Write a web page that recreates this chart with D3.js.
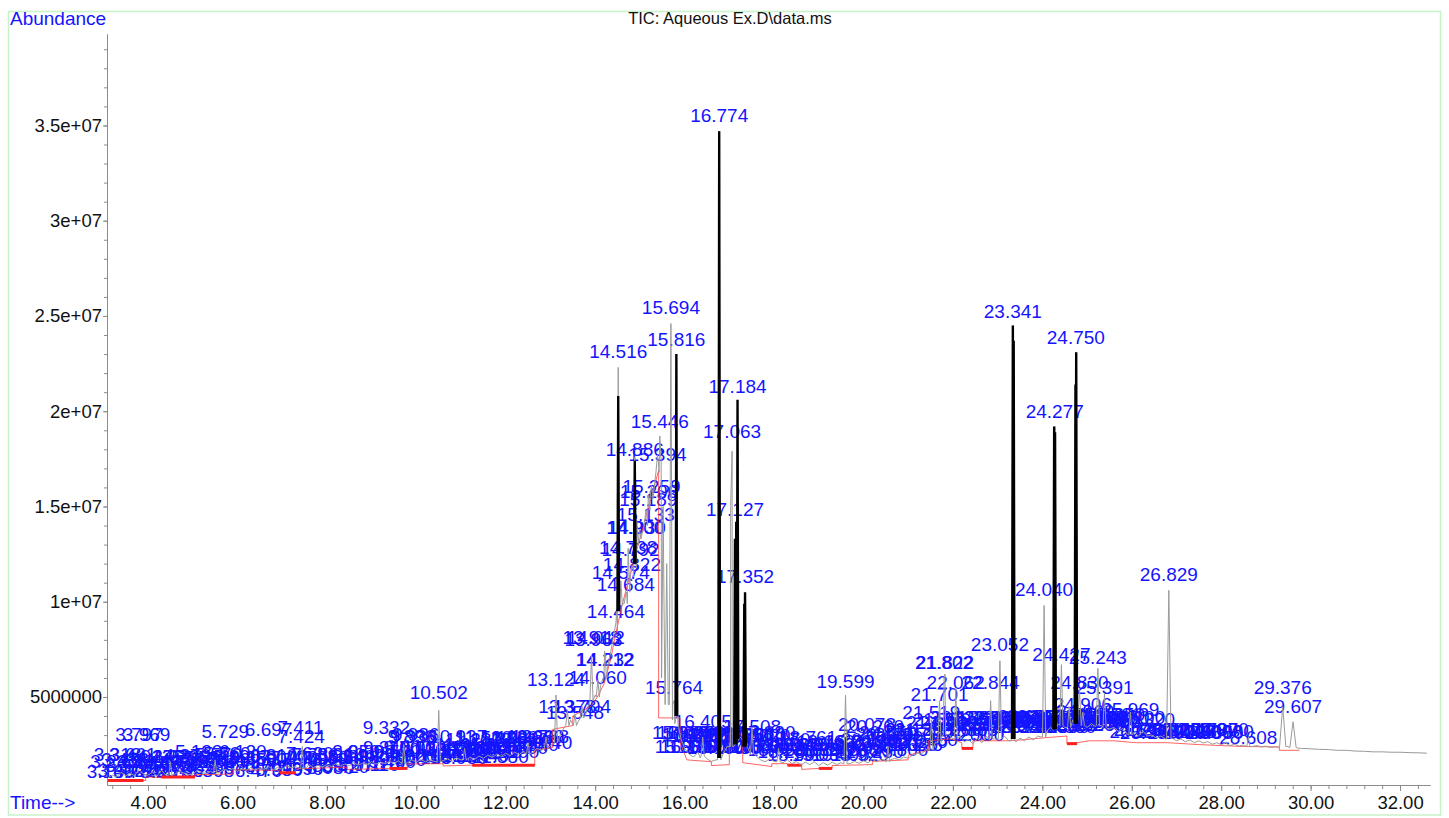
<!DOCTYPE html>
<html>
<head>
<meta charset="utf-8">
<script src="https://cdn.jsdelivr.net/npm/d3@7"></script>
<style>
  body { margin: 0; background: #fff; }
  text { font-family: "Liberation Sans", Arial, sans-serif; }
</style>
</head>
<body>
<div id="chart"></div>
<script>
// abundances are in millions, times in minutes

// TIC trace between the peaks [time, abundance]
const traceBase = [
  [3.10,0.75],[3.20,0.90],[3.30,0.80],[3.40,1.05],[3.50,0.85],[3.60,1.00],[3.70,0.88],[3.80,1.20],[3.90,0.95],[4.00,0.90],
  [4.10,1.05],[4.20,0.85],[4.30,1.15],[4.40,0.90],[4.60,0.95],[4.70,1.10],[4.80,1.00],[4.90,0.92],[5.00,0.95],[5.10,1.15],
  [5.20,1.05],[5.30,0.98],[5.40,1.10],[5.60,1.05],[5.70,1.20],[5.80,1.12],[5.90,1.25],[6.00,1.10],[6.10,1.22],[6.20,1.15],
  [6.30,1.30],[6.40,1.15],[6.50,1.28],[6.60,1.20],[6.70,1.35],[6.80,1.18],[6.90,1.30],[7.00,1.20],[7.10,1.40],[7.20,1.28],
  [7.30,1.35],[7.38,1.25],[7.55,1.30],[7.60,1.45],[7.70,1.30],[7.80,1.42],[7.90,1.32],[8.00,1.45],[8.10,1.35],[8.20,1.50],
  [8.30,1.38],[8.40,1.48],[8.50,1.40],[8.60,1.55],[8.70,1.42],[8.80,1.52],[8.90,1.45],[9.00,1.60],[9.10,1.48],[9.20,1.58],
  [9.30,1.50],[9.40,1.62],[9.50,1.52],[9.60,1.65],[9.80,1.55],[9.90,1.70],[10.00,1.58],[10.10,1.72],[10.20,1.60],[10.30,1.70],
  [10.40,1.62],[10.60,1.66],[10.70,1.75],[10.80,1.62],[10.90,1.80],[11.00,1.70],[11.15,1.75],[11.20,1.85],[11.30,1.72],[11.40,1.90],
  [11.50,1.78],[11.60,1.95],[11.70,1.82],[11.80,2.00],[11.90,1.88],[12.00,2.05],[12.10,1.92],[12.20,2.10],[12.30,1.98],[12.40,2.15],
  [12.60,2.10],[12.70,2.30],[12.80,2.20],[13.00,2.45],[13.20,2.90],[13.28,3.30],[13.45,3.80],[13.50,3.55],[13.62,3.70],[13.76,3.95],
  [13.85,4.50],[14.00,5.10],[14.12,5.60],[14.28,6.60],[14.35,7.40],[14.42,8.30],[14.62,9.90],[14.78,11.0],[14.95,13.2],[15.05,13.6],
  [15.10,14.2],[15.22,15.0],[15.33,16.2],[15.50,10.0],[15.55,6.0],[15.65,4.6],[15.72,4.4],[15.87,3.4],[15.92,2.8],[16.00,2.3],
  [16.10,2.00],[16.20,1.85],[16.30,2.10],[16.35,1.80],[16.50,1.75],[16.60,1.62],[16.70,1.70],[16.85,1.95],[16.95,2.40],[17.25,2.90],
  [17.42,2.30],[17.58,1.95],[17.70,1.70],[17.80,1.60],[17.90,1.75],[18.00,1.62],[18.20,1.55],[18.30,1.70],[18.40,1.50],[18.50,1.62],
  [18.60,1.42],[18.70,1.58],[18.80,1.45],[18.90,1.60],[19.00,1.40],[19.10,1.55],[19.20,1.42],[19.30,1.58],[19.40,1.45],[19.50,1.55],
  [19.70,1.50],[19.80,1.62],[19.90,1.52],[20.00,1.65],[20.10,1.55],[20.20,1.72],[20.30,1.60],[20.40,1.75],[20.50,1.62],[20.60,1.70],
  [20.70,1.78],[20.80,1.70],[20.90,1.85],[21.00,1.78],[21.10,1.95],[21.20,2.05],[21.30,2.00],[21.40,2.25],[21.46,2.20],[21.60,2.60],
  [21.75,2.90],[21.90,3.05],[22.00,2.80],[22.15,2.95],[22.25,2.65],[22.35,2.75],[22.45,2.55],[22.55,2.85],[22.65,2.60],[22.75,2.95],
  [22.95,2.80],[23.15,2.95],[23.25,2.70],[23.42,2.65],[23.50,2.85],[23.60,2.70],[23.70,2.90],[23.80,2.75],[23.90,2.95],[23.98,2.90],
  [24.10,3.20],[24.18,3.40],[24.35,3.60],[24.50,3.40],[24.68,3.80],[25.00,3.40],[25.10,3.60],[25.18,3.45],[25.32,3.50],[25.48,3.30],
  [25.60,3.40],[25.70,3.20],[25.80,3.35],[25.90,3.05],[26.05,3.15],[26.15,2.95],[26.25,3.20],[26.35,2.95],[26.45,3.00],[26.55,2.85],
  [26.65,2.95],[26.75,2.80],[26.90,2.85],[27.00,2.70],[27.10,2.80],[27.20,2.65],[27.30,2.75],[27.40,2.60],[27.50,2.70],[27.60,2.58],
  [27.70,2.66],[27.80,2.52],[27.90,2.60],[28.00,2.50],[28.10,2.58],[28.20,2.45],[28.30,2.52],[28.40,2.42],[28.50,2.48],[28.70,2.40],
  [28.80,2.45],[28.90,2.38],[29.00,2.42],[29.10,2.35],[29.20,2.38],[29.28,2.36],[29.49,2.40],[29.70,2.32],[29.80,2.30],[30.00,2.28],
  [30.20,2.25],[30.40,2.24],[30.60,2.20],[30.80,2.20],[31.00,2.16],[31.20,2.15],[31.40,2.12],[31.60,2.12],[31.80,2.10],[32.00,2.10],
  [32.20,2.08],[32.40,2.07],[32.60,2.05]
];

// grey peaks [rt, apex, foot, half width]
const greyPeaks = [
  [4.50,1.6,0.9],[5.50,1.7,1.0],[7.45,2.4,1.25],[9.72,2.5,1.5],[10.502,4.3,1.6],[11.08,2.3,1.7],[12.50,2.6,2.0],
  [12.90,2.9,2.3],[13.124,5.1,2.6],[13.378,4.3,3.5],[13.548,4.1,3.5],[13.704,4.5,3.9],[13.918,7.2,4.8],[14.060,5.9,5.0],
  [14.212,7.4,6.0],[14.232,7.2,6.0],[14.464,8.9,8.4],[14.516,22.3,9.5],[14.574,11.1,9.8],[14.684,10.4,9.9],[14.738,12.8,10.5],
  [14.822,11.9,11.3],[14.886,17.6,11.8],[14.930,14.3,13.0],[14.990,13.8,13.3],[15.133,14.8,14.0],[15.189,15.6,14.8],
  [15.259,16.1,15.4],[15.394,17.7,16.8],[15.446,18.7,17.3,0.03],[15.52,15.0,6.0],[15.60,12.0,4.6],[15.694,24.6,4.6],
  [15.764,4.8,3.8],[15.816,23.0,3.6],[16.405,2.9,1.9],[16.774,34.7,1.7],[17.030,15.0,2.4],[17.063,17.9,2.4],[17.508,3.4,2.0],
  [18.10,2.3,1.6],[19.599,5.1,1.5],[20.55,2.4,1.6],[21.519,3.8,2.2],[21.701,4.8,2.6],[21.802,6.0,3.0],[21.822,6.2,3.0],
  [22.065,5.4,2.8],[22.844,4.8,2.8],[23.052,6.9,2.8],[23.341,24.5,2.7],[24.040,9.8,2.9],[24.277,19.2,3.3],[24.427,6.7,3.5],
  [24.60,4.5,3.4],[24.750,23.1,3.6],[24.830,5.4,3.8],[24.906,4.2,3.5],[25.243,6.5,3.5],[25.391,5.2,3.4],[25.969,4.2,3.0],
  [26.829,10.6,2.8,0.05],[28.608,2.9,2.4],[29.376,4.5,2.4,0.07],[29.607,3.7,2.35,0.07]
];

// heavy black peaks [rt, apex, foot]
const blackPeaks = [
  [14.516,20.8,9.5],[14.886,17.4,12.0],[15.816,23.0,4.0],[16.774,34.7,1.8],[17.127,13.3,2.5],[17.155,14.2,2.6],
  [17.184,20.6,2.8],[17.335,9.9,2.4],[17.352,10.5,2.4],[23.341,24.5,2.8],[23.360,23.7,2.8],[24.265,19.2,3.3],
  [24.285,18.9,3.3],[24.742,21.4,3.6],[24.758,23.1,3.6]
];

// integration baseline [time, abundance]
const intLine = [
  [3.10,0.62],[3.95,0.62],[3.95,0.80],[4.30,0.78],[5.05,0.80],[5.05,0.92],[5.90,0.95],[5.90,1.18],[6.95,1.15],[6.95,1.02],
  [7.30,1.02],[7.30,1.22],[8.45,1.32],[8.45,1.20],[9.40,1.25],[9.80,1.25],[9.80,1.48],[10.60,1.50],[10.60,1.38],[11.25,1.42],
  [12.65,1.42],[12.65,2.20],[13.05,2.35],[13.05,3.30],[13.50,3.50],[13.50,4.00],[13.90,4.50],[14.05,5.00],[14.20,5.70],
  [14.35,7.00],[14.45,8.20],[14.60,9.80],[14.80,11.6],[15.00,13.3],[15.20,15.0],[15.42,16.9],[15.42,3.90],[15.90,3.90],
  [15.90,2.60],[16.05,1.70],[16.60,1.60],[16.60,1.40],[17.00,1.45],[17.00,3.10],[17.30,3.00],[17.30,1.55],[17.95,1.35],
  [17.95,1.50],[18.30,1.50],[18.30,1.42],[18.62,1.42],[18.62,1.20],[19.00,1.25],[19.30,1.25],[19.30,1.40],[20.20,1.45],
  [20.20,1.62],[21.00,1.70],[21.00,1.95],[21.45,2.20],[21.45,2.70],[21.95,2.80],[22.20,2.60],[22.20,2.30],[22.45,2.35],
  [22.45,2.70],[23.20,2.70],[23.55,2.75],[24.00,2.85],[24.55,2.95],[24.55,2.55],[24.78,2.60],[25.05,2.70],[25.60,2.70],
  [26.10,2.60],[26.80,2.60],[27.50,2.50],[28.50,2.40],[29.30,2.38],[29.30,2.20],[29.75,2.20]
];

// heavy integration marks [start, end, abundance]
const intMarks = [
  [3.10,3.90,0.62],[4.30,5.05,0.80],[6.95,7.30,1.02],[9.40,9.80,1.25],[11.25,12.65,1.42],
  [18.30,18.62,1.42],[19.00,19.30,1.25],[22.20,22.45,2.30],[24.55,24.78,2.55]
];

// peak labels [rt, abundance at label]
const peakLabels = [
  [3.160,0.45],[3.241,0.96],[3.318,1.33],[3.402,0.50],[3.488,1.07],[3.575,0.75],[3.661,1.33],[3.754,0.45],[3.839,0.96],
  [3.926,0.65],[4.012,1.22],[4.105,0.50],[4.188,0.91],[4.275,1.22],[4.361,0.45],[4.447,1.07],[4.533,0.75],[4.620,1.22],
  [4.706,0.50],[4.792,0.96],[4.879,1.27],[4.965,0.65],[5.052,1.17],[5.133,1.48],[5.225,0.80],[5.311,1.17],[5.398,0.50],
  [5.484,1.07],[5.570,1.33],[3.797,2.38],[3.969,2.38],
  [5.729,2.53],[6.697,2.64],[7.411,2.74],[7.424,2.27],[9.332,2.74],[9.896,2.27],[9.936,2.27],[9.986,2.38],[10.502,4.58],
  [10.937,2.27],[5.66,0.96],[5.76,1.38],[5.87,0.65],[5.99,1.22],[6.12,1.48],[6.24,0.80],[6.35,1.17],[6.47,0.50],[6.58,1.07],
  [6.70,0.75],[6.81,1.27],[6.93,0.55],[7.04,1.22],[7.16,0.80],[7.27,1.17],[7.39,0.60],[7.50,1.07],[7.62,1.38],[7.736,1.33],
  [7.85,0.75],[7.96,1.17],[8.08,0.65],[8.19,1.07],[8.31,1.33],[8.42,0.70],[8.54,1.22],[8.65,1.48],[8.77,0.80],[8.88,1.17],
  [9.00,1.48],[9.11,0.80],[9.23,1.27],[9.34,1.69],[9.46,0.96],[9.57,1.48],[9.69,1.07],[9.80,1.69],[9.92,1.27],[10.03,1.69],
  [10.15,1.17],[10.26,1.59],[10.38,1.27],[10.61,1.69],[10.72,1.27],[10.84,1.59],[10.95,1.17],
  [11.05,1.85],[11.16,1.48],[11.28,2.11],[11.39,1.69],[11.51,2.22],[11.62,1.85],[11.74,1.48],[11.85,2.11],[11.97,1.69],
  [12.08,2.22],[12.20,1.85],[12.31,2.11],[12.43,2.22],[12.54,1.85],[12.66,2.27],[12.768,2.27],[12.84,1.96],
  [11.00,1.33],[11.22,1.59],[11.44,1.27],[11.66,1.48],[11.88,1.22],[12.10,1.48],[12.30,1.69],
  [13.124,5.26],[13.378,3.85],[13.548,3.53],[13.704,3.85],[13.918,7.47],[13.963,7.36],[14.012,7.47],[14.212,6.31],
  [14.232,6.31],[14.060,5.37],[14.464,8.83],
  [14.516,22.47],[14.574,10.88],[14.684,10.25],[14.738,12.2],[14.792,12.09],[14.822,11.30],[14.886,17.33],[14.900,13.23],
  [14.930,13.23],[15.133,13.92],[15.189,14.70],[15.206,15.12],[15.259,15.39],[15.394,17.07],[15.446,18.80],
  [15.694,24.78],[15.816,23.10],[15.764,4.84],[16.405,3.06],[16.774,34.85],[17.063,18.27],[17.184,20.63],[17.127,14.18],
  [17.352,10.67],[17.508,2.80],
  [15.92,2.48],[16.03,2.48],[16.14,2.38],[16.25,2.48],[16.36,2.30],[16.47,2.38],[16.58,2.30],[16.69,2.48],[16.80,2.30],
  [16.91,2.38],[17.02,2.30],[17.13,2.38],[17.24,2.30],[17.35,2.38],[17.61,2.38],[17.72,2.30],[17.83,2.48],
  [15.98,1.75],[16.10,1.75],[16.30,1.75],[16.50,1.75],[16.70,1.70],[16.90,1.75],[17.10,1.75],[17.30,1.70],[17.50,1.75],[17.70,1.75],
  [17.95,1.85],[18.06,1.59],[18.17,2.11],[18.28,1.48],[18.39,1.85],[18.50,1.33],[18.61,1.85],[18.761,2.22],[18.83,1.59],
  [18.94,1.85],[19.05,1.33],[19.16,2.01],[19.27,1.59],[19.38,1.85],[19.49,1.33],[19.599,5.16],[19.70,1.59],[19.81,2.01],
  [19.92,1.33],[20.03,1.69],[20.078,2.90],[20.14,2.11],[20.25,1.48],[20.36,2.01],[20.47,2.38],[20.58,1.85],[20.69,2.22],
  [20.80,1.59],[20.91,2.38],[21.02,1.85],[21.13,2.64],[21.24,2.01],[21.35,2.64],[21.46,2.11],[20.26,2.80],[20.55,2.48],
  [21.125,1.85],
  [21.519,3.53],[21.701,4.48],[21.802,6.16],[21.822,6.16],[22.062,5.11],[22.844,5.11],[23.052,7.10],
  [21.60,3.01],[21.75,3.16],[21.90,3.01],[22.00,2.64],[22.15,3.27],[22.25,2.90],[22.363,2.64],[22.45,3.16],[22.55,2.90],
  [22.65,3.27],[22.75,3.01],[22.90,3.27],[23.00,2.90],[23.10,3.27],[23.20,3.06],[23.30,3.16],[22.20,2.38],[22.50,2.38],
  [23.341,24.57],[24.277,19.32],[24.750,23.21],[24.040,9.98],
  [23.45,3.27],[23.55,3.06],[23.65,3.32],[23.75,3.06],[23.85,3.32],[23.95,3.16],[24.10,3.27],[24.20,3.06],[24.35,3.32],
  [24.50,3.16],[24.60,3.06],[24.70,3.32],[24.906,3.95],[24.96,3.58],[25.05,3.27],[25.15,3.06],[25.25,3.27],[25.35,3.43],
  [25.45,3.27],[25.55,3.06],[25.65,3.43],[25.75,3.27],[25.969,3.69],[26.10,3.27],[26.320,3.16],
  [24.427,6.58],[24.830,5.11],[25.243,6.42],[25.391,4.84],
  [23.50,2.80],[23.70,2.80],[23.90,2.80],[24.15,2.80],[24.40,2.80],[24.55,2.80],[24.98,2.90],[25.20,2.90],[25.40,2.90],
  [26.829,10.78],[26.15,2.53],[26.25,2.64],[26.38,2.48],[26.50,2.64],[26.65,2.53],[26.90,2.64],[27.00,2.48],[27.12,2.64],
  [27.22,2.53],[27.35,2.48],[27.47,2.64],[27.60,2.53],[27.73,2.64],[27.85,2.48],[27.97,2.64],[28.08,2.53],[28.608,2.22],
  [29.376,4.84],[29.607,3.85]
];

const xTicks = [4, 6, 8, 10, 12, 14, 16, 18, 20, 22, 24, 26, 28, 30, 32];
const yTicks = [5, 10, 15, 20, 25, 30, 35];
const yTickText = ["5000000", "1e+07", "1.5e+07", "2e+07", "2.5e+07", "3e+07", "3.5e+07"];

const W = 1449, H = 818;
const blue = "#1414ff";

const svg = d3.select("#chart").append("svg")
  .attr("width", W).attr("height", H);

svg.append("rect")
  .attr("x", 8.5).attr("y", 11.5)
  .attr("width", 1432).attr("height", 803.5)
  .attr("fill", "none").attr("stroke", "#c8f2c8").attr("stroke-width", 1.5);

const x = d3.scaleLinear().domain([3.083, 32.67]).range([107, 1430]);
const y = d3.scaleLinear().domain([0.38, 39.8]).range([785, 34]);

// axes
function styleAxis(g) {
  g.select(".domain").attr("stroke", "#8c8c8c");
  g.selectAll(".tick line").attr("stroke", "#8c8c8c");
  g.selectAll("text").attr("fill", "#111")
    .attr("font-size", 18.5).attr("font-family", '"Liberation Sans", Arial, sans-serif');
}

svg.append("g").attr("transform", "translate(107,0)")
  .call(d3.axisLeft(y).tickValues(d3.range(1, 40)).tickFormat("").tickSize(3).tickSizeOuter(0))
  .call(styleAxis);
svg.append("g").attr("transform", "translate(107,0)")
  .call(d3.axisLeft(y).tickValues(yTicks).tickFormat((d, i) => yTickText[i]).tickSize(4).tickPadding(1).tickSizeOuter(0))
  .call(styleAxis);

svg.append("g").attr("transform", "translate(0,785)")
  .call(d3.axisBottom(x).tickValues(d3.range(3.2, 32.5, 0.4)).tickFormat("").tickSize(4).tickSizeOuter(0))
  .call(styleAxis);
svg.append("g").attr("transform", "translate(0,785)")
  .call(d3.axisBottom(x).tickValues(xTicks).tickFormat(d3.format(".2f")).tickSize(6).tickPadding(5).tickSizeOuter(0))
  .call(styleAxis);

// titles
svg.append("text").attr("x", 10).attr("y", 25)
  .attr("font-size", 19).attr("fill", blue).text("Abundance");
svg.append("text").attr("x", 10).attr("y", 809)
  .attr("font-size", 19).attr("fill", blue).text("Time-->");
svg.append("text").attr("x", 730).attr("y", 24).attr("text-anchor", "middle")
  .attr("font-size", 16.5).attr("fill", "#111").text("TIC: Aqueous Ex.D\\data.ms");

// peak labels
svg.append("g").selectAll("text")
  .data(peakLabels)
  .join("text")
  .attr("x", d => x(d[0]))
  .attr("y", d => y(d[1]) - 6)
  .attr("text-anchor", "middle")
  .attr("font-size", 19)
  .attr("fill", blue)
  .text(d => d[0].toFixed(3));

// integration baseline
const line = d3.line().x(d => x(d[0])).y(d => y(d[1]));

svg.append("path")
  .datum(intLine)
  .attr("d", line)
  .attr("fill", "none").attr("stroke", "#ff3030").attr("stroke-width", 1).attr("opacity", 0.75);

svg.append("g").selectAll("line")
  .data(intMarks)
  .join("line")
  .attr("x1", d => x(d[0])).attr("x2", d => x(d[1]))
  .attr("y1", d => y(d[2])).attr("y2", d => y(d[2]))
  .attr("stroke", "#ff2020").attr("stroke-width", 3);

// TIC trace: base points plus narrow peaks
const hw = p => p[3] || 0.035;
const spikes = greyPeaks.flatMap(p => [[p[0] - hw(p), p[2]], [p[0], p[1]], [p[0] + hw(p), p[2]]]);
const trace = traceBase
  .filter(([t]) => !greyPeaks.some(p => Math.abs(p[0] - t) < hw(p) + 0.01))
  .concat(spikes)
  .sort((a, b) => a[0] - b[0]);

svg.append("path")
  .datum(trace)
  .attr("d", line)
  .attr("fill", "none").attr("stroke", "#9a9a9a").attr("stroke-width", 1);

svg.append("g").selectAll("path")
  .data(blackPeaks)
  .join("path")
  .attr("d", p => line([[p[0] - 0.018, p[2]], [p[0], p[1]], [p[0] + 0.018, p[2]]]))
  .attr("fill", "none").attr("stroke", "#000").attr("stroke-width", 2.4);
</script>
</body>
</html>
